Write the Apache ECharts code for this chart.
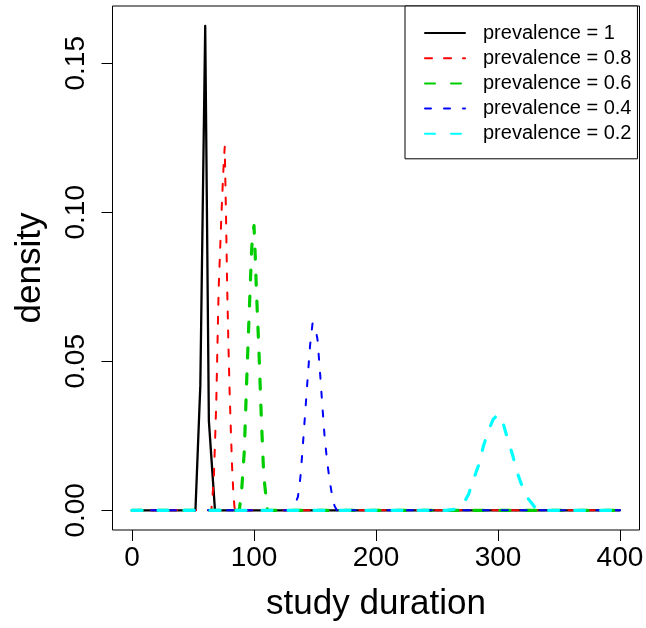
<!DOCTYPE html>
<html>
<head>
<meta charset="utf-8">
<script src="https://cdn.jsdelivr.net/npm/echarts@6/dist/echarts.min.js"></script>
<style>
html,body{margin:0;padding:0;background:#fff;}
#chart{width:646px;height:628px;}
</style>
</head>
<body>
<div id="chart"></div>
<script>
// ---- data ----
const xTicks = [0, 100, 200, 300, 400];
const yTicks = [0, 0.05, 0.10, 0.15];
const seriesNames = ['prevalence = 1', 'prevalence = 0.8', 'prevalence = 0.6', 'prevalence = 0.4', 'prevalence = 0.2'];

const xPrev1 = [0, 52, 56, 60, 63, 68, 400];
const yPrev1 = [0, 0, 0.042, 0.1625, 0.03, 0, 0];

const xPrev08 = [0, 65, 67, 69, 71, 73, 74, 75, 76, 77, 78, 79, 80, 81, 82, 83, 84, 85, 400];
const yPrev08 = [0, 0, 0.01, 0.035, 0.074, 0.096, 0.106, 0.115, 0.122, 0.1, 0.075, 0.056, 0.04, 0.027, 0.015, 0.0065, 0.001, 0, 0];

const xPrev06 = [0, 88, 90, 92, 94, 96, 98, 99, 100, 101, 102, 104, 106, 108, 110, 111, 400];
const yPrev06 = [0, 0, 0.0075, 0.0195, 0.0435, 0.0655, 0.087, 0.093, 0.0955, 0.0855, 0.0735, 0.054, 0.031, 0.0115, 0.004, 0, 0];

const xPrev04 = [0, 130, 132, 134, 136, 138, 140, 142, 144, 146, 148, 150, 152, 154, 156, 158, 160, 162, 164, 166, 168, 400];
const yPrev04 = [0, 0, 0.001, 0.0025, 0.0045, 0.011, 0.0215, 0.033, 0.0445, 0.0555, 0.0628, 0.0615, 0.0575, 0.047, 0.0352, 0.024, 0.0163, 0.010, 0.005, 0.0015, 0, 0];

const xPrev02 = [0, 258, 264, 268, 272, 276, 280, 284, 288, 292, 296, 300, 304, 308, 312, 316, 320, 324, 328, 332, 400];
const yPrev02 = [0, 0, 0.0003, 0.001, 0.0025, 0.0055, 0.0105, 0.015, 0.0215, 0.0265, 0.0305, 0.0322, 0.0295, 0.0238, 0.0185, 0.0124, 0.0078, 0.0043, 0.0022, 0, 0];

// ---- build ----
const FONT = '"Liberation Sans", Arial, Helvetica, sans-serif';
function pairs(xs, ys) { return xs.map((x, i) => [x, ys[i]]); }

const styles = [
  { color: '#000000', width: 2.3, type: 'solid' },
  { color: '#ff0000', width: 2, type: [7, 12] },
  { color: '#00cd00', width: 3.2, type: [10, 16] },
  { color: '#0000ff', width: 2, type: [6, 13] },
  { color: '#00ffff', width: 3.2, type: [10, 16] }
];
const datasets = [
  pairs(xPrev1, yPrev1),
  pairs(xPrev08, yPrev08),
  pairs(xPrev06, yPrev06),
  pairs(xPrev04, yPrev04),
  pairs(xPrev02, yPrev02)
];

const chart = echarts.init(document.getElementById('chart'), null, { renderer: 'canvas' });
chart.setOption({
  animation: false,
  backgroundColor: '#ffffff',
  grid: {
    left: 112.5, right: 6.5, top: 6, bottom: 98,
    show: true, borderColor: '#000', borderWidth: 1,
    containLabel: false, outerBoundsMode: 'none'
  },
  legend: {
    orient: 'vertical',
    left: 405, top: 6,
    data: seriesNames,
    itemWidth: 40, itemHeight: 14, itemGap: 5.2,
    padding: [17, 6, 15, 19],
    borderColor: '#000', borderWidth: 1, borderRadius: 0,
    backgroundColor: '#fff',
    selectedMode: false,
    itemStyle: { color: 'rgba(0,0,0,0)', borderWidth: 0, opacity: 0 },
    textStyle: { fontFamily: FONT, fontSize: 20, color: '#000', padding: [0, 0, 0, 13], lineHeight: 20 }
  },
  xAxis: {
    type: 'value', min: -16, max: 416,
    name: 'study duration', nameLocation: 'middle', nameGap: 57,
    nameTextStyle: { fontFamily: FONT, fontSize: 35, color: '#000' },
    axisLine: { show: false, onZero: false },
    splitLine: { show: false },
    axisTick: { show: true, inside: false, length: 11, customValues: xTicks, lineStyle: { color: '#000', width: 1 } },
    axisLabel: { customValues: xTicks, fontFamily: FONT, fontSize: 28, color: '#000', margin: 14 }
  },
  yAxis: {
    type: 'value', min: -0.0066, max: 0.1692,
    name: 'density', nameLocation: 'middle', nameGap: 65, nameRotate: 90,
    nameTextStyle: { fontFamily: FONT, fontSize: 35, color: '#000' },
    axisLine: { show: false, onZero: false },
    splitLine: { show: false },
    axisTick: { show: true, inside: false, length: 11, customValues: yTicks, lineStyle: { color: '#000', width: 1 } },
    axisLabel: { customValues: yTicks, rotate: 90, fontFamily: FONT, fontSize: 28, color: '#000', margin: 22,
      formatter: v => v.toFixed(2) }
  },
  series: datasets.map((d, i) => ({
    name: seriesNames[i],
    type: 'line',
    data: d,
    symbol: 'none',
    showSymbol: false,
    smooth: false,
    lineStyle: { color: styles[i].color, width: styles[i].width, type: styles[i].type, cap: 'round', join: 'round' },
    itemStyle: { color: styles[i].color },
    z: 2 + i
  }))
});
</script>
</body>
</html>
